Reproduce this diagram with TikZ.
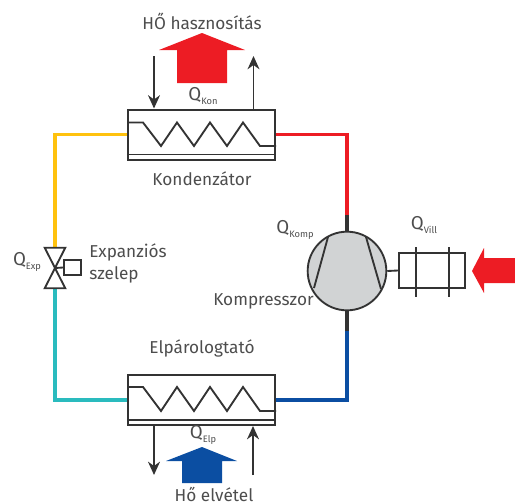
\documentclass[tikz,border=0pt]{standalone}
\usepackage{fontspec}
\setmainfont{Fira Sans}
\usepackage{xcolor}
\usetikzlibrary{arrows.meta}
\definecolor{pipeyellow}{RGB}{255,194,14}
\definecolor{pipered}{RGB}{237,28,36}
\definecolor{pipeteal}{RGB}{42,187,190}
\definecolor{pipeblue}{RGB}{11,78,162}
\definecolor{compgrey}{RGB}{209,211,212}
\definecolor{linegrey}{RGB}{51,51,51}
\definecolor{textgrey}{RGB}{77,77,77}
\newcommand{\qlabel}[1]{{\fontsize{14}{15}\selectfont Q}\raisebox{-0.5ex}{\fontsize{7}{8}\selectfont #1}}
\tikzset{
  exchanger/.style={draw=linegrey,line width=1.5pt,fill=white,minimum width=110.5pt,minimum height=37.5pt,inner sep=0pt},
  pipe/.style={line width=2.6pt},
  coil/.style={draw=linegrey,line width=1.4pt},
  part/.style={draw=linegrey,line width=1.4pt},
  heat/.style={draw=linegrey,line width=1.1pt,-{Stealth[length=10pt,width=9pt]}},
  lbl/.style={text=textgrey,font=\fontsize{12.9}{17}\selectfont,inner sep=0pt,align=left}
}
\begin{document}
\begin{tikzpicture}[x=0.75pt,y=-0.75pt]
\useasboundingbox (0,0) rectangle (515,504);

% Parts
\node [exchanger] (kond) at (201.5,134.5) {};
\node [exchanger] (elp) at (201.5,400) {};
\node [draw=linegrey,line width=1.4pt,fill=compgrey,circle,minimum size=59pt,inner sep=0pt] (komp) at (347,271) {};
\node [minimum width=15pt,minimum height=30pt,inner sep=0pt] (valve) at (55,268) {};
\node [part,fill=white,minimum width=12.5pt,minimum height=11.5pt,inner sep=0pt] (valvebox) at (72.5,267.5) {};
\node [part,fill=white,minimum width=49.5pt,minimum height=26.5pt,inner sep=0pt] (motor) at (432,270.5) {};
\coordinate (komptop) at (347,215);
\coordinate (kompbot) at (347,331);

% Pipes
\draw [pipe,pipeyellow] (kond.west) -| (valve.north);
\draw [pipe,pipeteal] (elp.west) -| (valve.south);
\draw [pipe,pipered] (kond.east) -| (komptop);
\draw [pipe,pipeblue] (elp.east) -| (kompbot);
\draw [pipe,linegrey] (komptop) -- (komp.north);
\draw [pipe,linegrey] (kompbot) -- (komp.south);

% Condenser inside
\draw [coil] (128,122.5) -- (143,122.5) -- (161,146) -- (177,122.5) -- (194,146) -- (210,122.5) -- (227,146) -- (243,122.5) -- (260,146) -- (276,146);
\draw [coil] (kond.south west) ++(0,-6) -- ++(149,0);
% Evaporator inside
\draw [coil] (128,387) -- (143,387) -- (161,411) -- (177,387) -- (194,411) -- (210,387) -- (227,411) -- (243,387) -- (260,411) -- (276,411);
\draw [coil] (elp.south west) ++(0,-6) -- ++(149,0);

% Valve
\draw [part,line join=miter] (valve.north west) -- (valve.north east) -- (valve.south west) -- (valve.south east) -- cycle;
\draw [part] (valve.center) -- (valvebox.west);

% Compressor and motor
\draw [part] (328,237) -- (314,288);
\draw [part] (366,237) -- (381,289);
\draw [part] (komp.east) -- (motor.west);
\draw [part] (416,247) -- (416,297);
\draw [part] (449,247) -- (449,297);

% Big arrows
\fill [pipered] (202,33) -- (245,50) -- (227,50) -- (227,83) -- (177,83) -- (177,50) -- (159,50) -- cycle;
\fill [pipeblue] (202,447) -- (237,461) -- (222,461) -- (222,483) -- (182,483) -- (182,461) -- (166,461) -- cycle;
\fill [pipered] (472,271) -- (484,248) -- (484,258) -- (515,258) -- (515,283) -- (484,283) -- (484,293) -- cycle;

% Heat arrows
\coordinate (kondin) at (154,56);
\coordinate (kondout) at (253.5,56);
\coordinate (elpout) at (154,475);
\coordinate (elpin) at (253,475);
\draw [heat] (kondin) -- (kondin |- kond.north);
\draw [heat] (kondout |- kond.north) -- (kondout);
\draw [heat] (elpout |- elp.south) -- (elpout);
\draw [heat] (elpin) -- (elpin |- elp.south);

% Text Node
\node [lbl] (hotuse) at (202,21) {HŐ hasznosítás};
\node [lbl] (qkon) at (203,96) {\qlabel{Kon}};
\node [lbl] (kondname) at (202,179) {Kondenzátor};
\node [lbl] (elpname) at (202,348) {Elpárologtató};
\node [lbl] (qelp) at (203,435) {\qlabel{Elp}};
\node [lbl] (coldtake) at (214,494) {Hő elvétel};
\node [lbl] (qexp) at (27,262) {\qlabel{Exp}};
\node [lbl,anchor=west] (valvename) at (89,263.5) {Expanziós\\szelep};
\node [lbl] (qkomp) at (295,230) {\qlabel{Komp}};
\node [lbl] (kompname) at (263.5,301) {Kompresszor};
\node [lbl] (qvill) at (424,225) {\qlabel{Vill}};
\end{tikzpicture}
\end{document}
